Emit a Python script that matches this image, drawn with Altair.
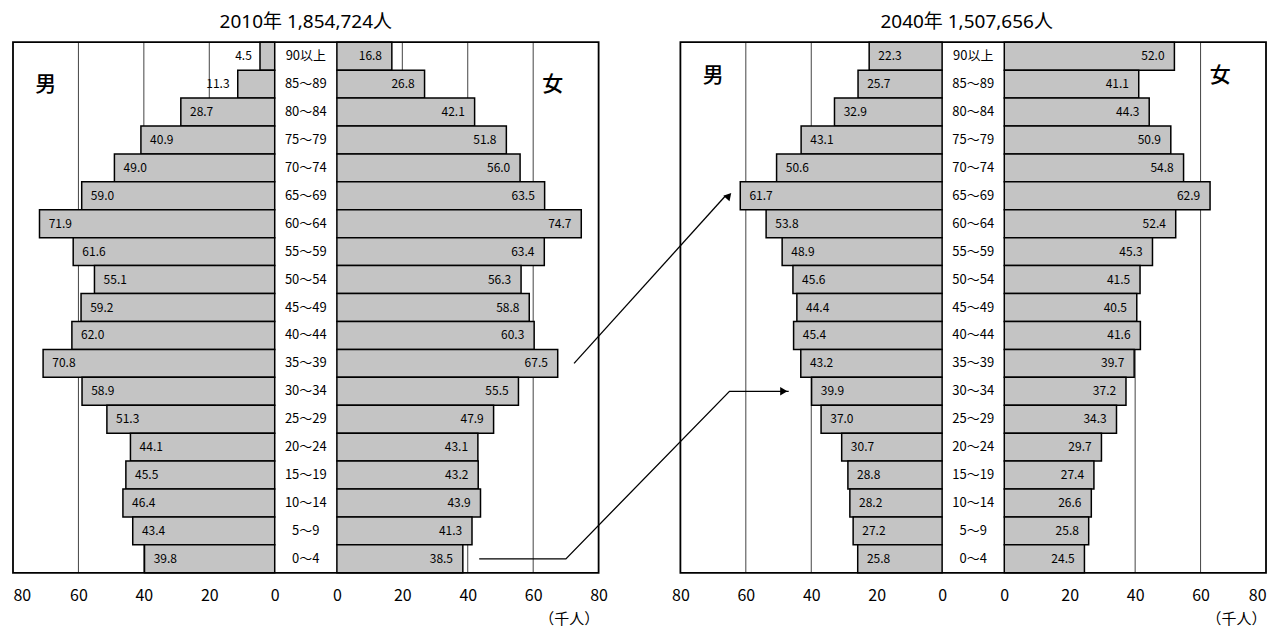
import altair as alt
import pandas as pd

# ---------------- data ----------------
AGES = ["90以上", "85～89", "80～84", "75～79", "70～74", "65～69", "60～64",
        "55～59", "50～54", "45～49", "40～44", "35～39", "30～34", "25～29",
        "20～24", "15～19", "10～14", "5～9", "0～4"]
TITLES = ["2010年 1,854,724人", "2040年 1,507,656人"]

MALE_2010 = [4.5, 11.3, 28.7, 40.9, 49.0, 59.0, 71.9, 61.6, 55.1, 59.2,
             62.0, 70.8, 58.9, 51.3, 44.1, 45.5, 46.4, 43.4, 39.8]
FEMALE_2010 = [16.8, 26.8, 42.1, 51.8, 56.0, 63.5, 74.7, 63.4, 56.3, 58.8,
               60.3, 67.5, 55.5, 47.9, 43.1, 43.2, 43.9, 41.3, 38.5]
MALE_2040 = [22.3, 25.7, 32.9, 43.1, 50.6, 61.7, 53.8, 48.9, 45.6, 44.4,
             45.4, 43.2, 39.9, 37.0, 30.7, 28.8, 28.2, 27.2, 25.8]
FEMALE_2040 = [52.0, 41.1, 44.3, 50.9, 54.8, 62.9, 52.4, 45.3, 41.5, 40.5,
               41.6, 39.7, 37.2, 34.3, 29.7, 27.4, 26.6, 25.8, 24.5]

AXIS_TICKS = [0, 20, 40, 60, 80]
GRID_TICKS = [20, 40, 60]
SEX_LABELS = ["男", "女"]
UNIT_LABEL = "（千人）"

# ---------------- layout (data units) ----------------
HALF = 80
CENTER = 19
GAP = 25
PANEL = 2 * HALF + CENTER
STEP = PANEL + GAP
TOTAL = STEP + PANEL
W, H = 1254, 531
FONT = "'Noto Sans CJK JP', 'Noto Sans', sans-serif"
TITLE_FONT = "'Noto Sans', 'Noto Sans CJK JP', sans-serif"
BAR_FILL = "#c4c4c4"


def u_of(panel, sex, v):
    base = panel * STEP
    return base + HALF - v if sex == "M" else base + HALF + CENTER + v


rows = []
for p, (m, f) in enumerate([(MALE_2010, FEMALE_2010), (MALE_2040, FEMALE_2040)]):
    for sex, vals in (("M", m), ("F", f)):
        for age, v in zip(AGES, vals):
            zero = u_of(p, sex, 0)
            end = u_of(p, sex, v)
            rows.append(dict(panel=p, sex=sex, age=age, value=v,
                             x0=min(zero, end), x1=max(zero, end)))
bars = pd.DataFrame(rows)
bars["lab_in_m"] = bars["x0"] + 2.8
bars["lab_out_m"] = bars["x0"] - 2.5
bars["lab_f"] = bars["x1"] - 3.0

X_SCALE = alt.Scale(domain=[0, TOTAL], nice=False, zero=False)
Y_SCALE = alt.Scale(domain=AGES, paddingInner=0, paddingOuter=0)

tick_pairs = []
for p in range(2):
    for sex in ("M", "F"):
        for t in AXIS_TICKS:
            tick_pairs.append((u_of(p, sex, t), t))
label_expr = "".join(f"datum.value == {u} ? '{lab}' : " for u, lab in tick_pairs) + "''"
X_AXIS = alt.Axis(values=[u for u, _ in tick_pairs], labelExpr=label_expr,
                  title=None, grid=False, ticks=False, domain=False,
                  labelFont=FONT, labelFontSize=16, labelColor="black",
                  labelPadding=15, labelFlush=True)


def X(field):
    return alt.X(field, scale=X_SCALE, axis=X_AXIS)


def Y():
    return alt.Y("age:N", scale=Y_SCALE, axis=None, sort=AGES)


# grid lines
grid = pd.DataFrame([dict(u=u_of(p, s, g)) for p in range(2) for s in ("M", "F") for g in GRID_TICKS])
grid_layer = alt.Chart(grid).mark_rule(color="#444444", strokeWidth=1).encode(x=X("u:Q"))

# bars
bar_layer = alt.Chart(bars).mark_bar(fill=BAR_FILL, stroke="black", strokeWidth=1.5).encode(
    x=X("x0:Q"), x2="x1:Q", y=Y())

txt = dict(font=FONT, fontSize=12, color="black", baseline="middle")
lab_m_in = alt.Chart(bars).transform_filter("datum.sex == 'M' && datum.value >= 15").mark_text(
    align="left", **txt).encode(x=X("lab_in_m:Q"), y=Y(), text=alt.Text("value:Q", format=".1f"))
lab_m_out = alt.Chart(bars).transform_filter("datum.sex == 'M' && datum.value < 15").mark_text(
    align="right", **txt).encode(x=X("lab_out_m:Q"), y=Y(), text=alt.Text("value:Q", format=".1f"))
lab_f = alt.Chart(bars).transform_filter("datum.sex == 'F'").mark_text(
    align="right", **txt).encode(x=X("lab_f:Q"), y=Y(), text=alt.Text("value:Q", format=".1f"))

# age labels in the center column
ages = pd.DataFrame([dict(u=p * STEP + HALF + CENTER / 2, age=a) for p in range(2) for a in AGES])
age_layer = alt.Chart(ages).mark_text(font=FONT, fontSize=13, color="black", baseline="middle").encode(
    x=X("u:Q"), y=Y(), text="age:N")

# panel frames
frames = pd.DataFrame([dict(a=p * STEP, b=p * STEP + PANEL) for p in range(2)])
frame_layer = alt.Chart(frames).mark_rect(fillOpacity=0, stroke="black", strokeWidth=1.8).encode(
    x=X("a:Q"), x2="b:Q", y=alt.value(0), y2=alt.value(H))

# titles
titles = pd.DataFrame([dict(u=p * STEP + PANEL / 2 - 2 * p, t=TITLES[p]) for p in range(2)])
title_layer = alt.Chart(titles).mark_text(font=TITLE_FONT, fontSize=19, color="black",
                                          baseline="middle").encode(
    x=X("u:Q"), y=alt.value(-20), text="t:N")

# 男 / 女
sex_rows = []
for p, yy in enumerate([43, 34]):
    sex_rows.append(dict(u=p * STEP + 10, t=SEX_LABELS[0], yy=yy))
    sex_rows.append(dict(u=p * STEP + PANEL - 14, t=SEX_LABELS[1], yy=yy))
sex_df = pd.DataFrame(sex_rows)
sex_layer = alt.Chart(sex_df).mark_text(font=FONT, fontSize=21, fontWeight=500, color="black",
                                        baseline="middle").encode(
    x=X("u:Q"), y=alt.Y("yy:Q", scale=alt.Scale(domain=[0, H], range=[0, H]), axis=None), text="t:N")

# (千人)
unit_df = pd.DataFrame([dict(u=p * STEP + PANEL - 9, t=UNIT_LABEL) for p in range(2)])
unit_layer = alt.Chart(unit_df).mark_text(font=FONT, fontSize=15, color="black", baseline="middle").encode(
    x=X("u:Q"), y=alt.value(H + 46), text="t:N")

# cohort arrows (2010 -> 2040), anchored on the bars they connect
def val(panel, sex, age):
    src = {(0, "M"): MALE_2010, (0, "F"): FEMALE_2010, (1, "M"): MALE_2040, (1, "F"): FEMALE_2040}
    return src[(panel, sex)][AGES.index(age)]

arrow_pts = [
    dict(arrow="a", o=0, age="35～39", u=u_of(0, "F", val(0, "F", "35～39") + 5)),
    dict(arrow="a", o=1, age="65～69", u=u_of(1, "M", val(1, "M", "65～69") + 4.5)),
    dict(arrow="b", o=0, age="0～4", u=u_of(0, "F", val(0, "F", "0～4") + 5)),
    dict(arrow="b", o=1, age="0～4", u=u_of(0, "F", 70)),
    dict(arrow="b", o=2, age="30～34", u=u_of(1, "M", 65)),
    dict(arrow="b", o=3, age="30～34", u=u_of(1, "M", val(1, "M", "30～34") + 7)),
]
arrows = pd.DataFrame(arrow_pts)
arrow_line = alt.Chart(arrows).mark_line(color="black", strokeWidth=1.3).encode(
    x=X("u:Q"), y=Y(), order="o:Q", detail="arrow:N")
heads = pd.DataFrame([
    dict(u=arrow_pts[1]["u"] + 1.0, age="65～69", ang=42),
    dict(u=arrow_pts[5]["u"] - 1.5, age="30～34", ang=90),
])
head_layer = alt.Chart(heads).mark_point(shape="triangle-up", filled=True, color="black",
                                         size=70, opacity=1).encode(
    x=X("u:Q"), y=Y(), angle=alt.Angle("ang:Q", scale=None))

chart = alt.layer(
    grid_layer, bar_layer, lab_m_in, lab_m_out, lab_f, age_layer, frame_layer,
    title_layer, sex_layer, unit_layer, arrow_line, head_layer
).resolve_scale(y="independent").properties(
    width=W, height=H,
    padding={"left": 5, "top": 34, "right": 8, "bottom": 56},
    autosize=alt.AutoSizeParams(type="none"),
).configure_view(stroke=None)

chart.save("out.html", embed_options={"renderer": "svg", "actions": False})
